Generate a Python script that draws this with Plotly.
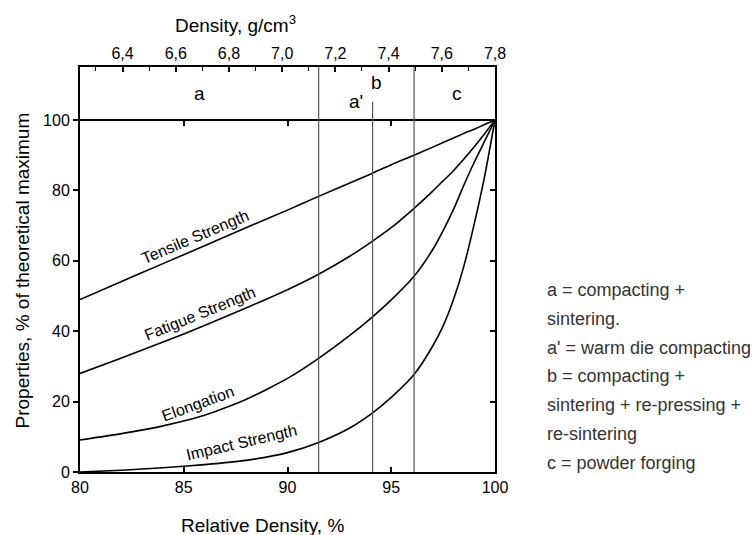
import plotly.graph_objects as go

# Relative density (% of theoretical) and property levels (% of theoretical maximum)
rel_density = [80, 82, 84, 86, 88, 90, 91.5, 93, 94.1, 95, 96.1, 97, 97.5, 98, 98.5, 99, 99.5, 100]
tensile = [49, 54.1, 59.2, 64.3, 69.4, 74.4, 78.3, 82.1, 84.9, 87.3, 90.0, 92.3, 93.6, 94.9, 96.2, 97.4, 98.7, 100]
fatigue = [28, 32.4, 36.9, 41.6, 46.6, 51.8, 56.2, 61.3, 65.6, 69.4, 74.9, 79.8, 82.7, 85.6, 88.9, 92.4, 96.1, 100]
elongation = [9.1, 10.9, 13.1, 16.1, 20.6, 26.6, 32.3, 38.8, 44.1, 48.9, 55.6, 63.2, 68.6, 74.6, 81.5, 88.0, 94.0, 100]
impact = [0, 0.5, 1.2, 2.1, 3.3, 5.5, 8.4, 12.5, 16.8, 21.2, 27.7, 35.8, 41.5, 49, 58.5, 70.5, 84, 100]

curve_labels = ["Tensile Strength", "Fatigue Strength", "Elongation", "Impact Strength"]
label_x = [85.59, 85.78, 85.69, 87.76]
label_y = [66.8, 44.9, 19.6, 8.5]
label_angle = [-23, -22, -20, -13]

# Process route boundaries (relative density) and region letters
boundary_full = [91.5, 96.1]
boundary_b = 94.1
boundary_b_top = 105.2
route_letters = ["a", "a'", "b", "c"]
letter_x = [85.75, 93.3, 94.3, 98.15]
letter_y = [107.6, 105.2, 110.6, 107.6]

x_ticks = [80, 85, 90, 95, 100]
y_ticks = [0, 20, 40, 60, 80, 100]
full_density = 7.8
density_ticks = [6.4, 6.6, 6.8, 7.0, 7.2, 7.4, 7.6, 7.8]
density_text = ["6,4", "6,6", "6,8", "7,0", "7,2", "7,4", "7,6", "7,8"]

legend_lines = [
    "a = compacting +",
    "sintering.",
    "a' = warm die compacting",
    "b = compacting +",
    "sintering + re-pressing +",
    "re-sintering",
    "c = powder forging",
]

W, H = 755, 535
L, R, T, B = 80, 260, 67, 63
PW, PH = W - L - R, H - T - B
Y_TOP = 115.06
FONT = "Liberation Sans, Arial, sans-serif"


def px_x(px):
    return (px - L) / PW


def px_y(py):
    return (H - B - py) / PH


fig = go.Figure()

for ys in [tensile, fatigue, elongation, impact]:
    fig.add_trace(go.Scatter(
        x=rel_density, y=ys, mode="lines",
        line=dict(color="black", width=1.6, shape="spline", smoothing=0.6),
        hoverinfo="skip", showlegend=False,
    ))

# invisible anchors so the overlay axes are drawn
fig.add_trace(go.Scatter(x=[density_ticks[0]], y=[0], xaxis="x2", yaxis="y",
                         mode="markers", marker=dict(opacity=0), hoverinfo="skip", showlegend=False))
fig.add_trace(go.Scatter(x=[x_ticks[0]], y=[0], xaxis="x3", yaxis="y",
                         mode="markers", marker=dict(opacity=0), hoverinfo="skip", showlegend=False))
fig.add_trace(go.Scatter(x=[x_ticks[0]], y=[0], xaxis="x", yaxis="y2",
                         mode="markers", marker=dict(opacity=0), hoverinfo="skip", showlegend=False))

# region boundaries
for xb in boundary_full:
    fig.add_shape(type="line", xref="x", yref="y", x0=xb, x1=xb, y0=0, y1=Y_TOP,
                  line=dict(color="#555555", width=1.2))
fig.add_shape(type="line", xref="x", yref="y", x0=boundary_b, x1=boundary_b, y0=0, y1=boundary_b_top,
              line=dict(color="#555555", width=1.2))

for txt, x, y, a in zip(curve_labels, label_x, label_y, label_angle):
    fig.add_annotation(x=x, y=y, xref="x", yref="y", text=txt, textangle=a, showarrow=False,
                       xanchor="center", yanchor="middle",
                       font=dict(family=FONT, size=16, color="black"))

for txt, x, y in zip(route_letters, letter_x, letter_y):
    fig.add_annotation(x=x, y=y, xref="x", yref="y", text=txt, showarrow=False,
                       xanchor="center", yanchor="middle",
                       font=dict(family=FONT, size=19, color="black"))

# axis titles
fig.add_annotation(x=px_x(262), y=px_y(525), xref="paper", yref="paper", text="Relative Density, %",
                   showarrow=False, xanchor="center", yanchor="middle",
                   font=dict(family=FONT, size=19, color="black"))
fig.add_annotation(x=px_x(235), y=px_y(24), xref="paper", yref="paper",
                   text="Density, g/cm<sup>3</sup>", showarrow=False, xanchor="center", yanchor="middle",
                   font=dict(family=FONT, size=19, color="black"))
fig.add_annotation(x=px_x(21.5), y=px_y(271), xref="paper", yref="paper",
                   text="Properties, % of theoretical maximum", textangle=-90, showarrow=False,
                   xanchor="center", yanchor="middle",
                   font=dict(family=FONT, size=19, color="black"))

for i, line in enumerate(legend_lines):
    fig.add_annotation(x=px_x(545), y=px_y(290 + 28.8 * i), xref="paper", yref="paper",
                       text=line, xanchor="left", yanchor="middle", showarrow=False,
                       font=dict(family=FONT, size=18, color="#333333"))

tick_font = dict(family=FONT, size=16, color="black")
fig.update_layout(
    width=W, height=H,
    margin=dict(l=L, r=R, t=T, b=B, pad=0),
    paper_bgcolor="white", plot_bgcolor="white",
    showlegend=False,
    xaxis=dict(range=[x_ticks[0], x_ticks[-1]], tickvals=x_ticks, ticks="inside", ticklen=5,
               tickwidth=1.5, tickcolor="black", showline=True, linewidth=2, linecolor="black",
               showgrid=False, zeroline=False, tickfont=tick_font),
    xaxis2=dict(range=[x_ticks[0] * full_density / 100, full_density], overlaying="x", side="top",
                anchor="y", tickvals=density_ticks, ticktext=density_text, ticks="inside",
                ticklen=5, tickwidth=1.5, tickcolor="black",
                minor=dict(ticks="inside", tick0=6.3, dtick=0.2, ticklen=4, tickwidth=1.2, tickcolor="black"),
                showline=True, linewidth=2, linecolor="black", showgrid=False, zeroline=False,
                tickfont=tick_font),
    xaxis3=dict(range=[x_ticks[0], x_ticks[-1]], overlaying="x", anchor="free",
                position=100 / Y_TOP, side="bottom", tickvals=x_ticks[1:-1], ticks="outside",
                ticklen=5, tickwidth=1.5, tickcolor="black", showticklabels=False,
                showline=True, linewidth=1.8, linecolor="black", showgrid=False, zeroline=False),
    yaxis=dict(range=[0, Y_TOP], tickvals=y_ticks, ticks="outside", ticklen=5, tickwidth=1.5,
               tickcolor="black", showline=True, linewidth=2, linecolor="black",
               showgrid=False, zeroline=False, tickfont=tick_font),
    yaxis2=dict(range=[0, Y_TOP], overlaying="y", side="right", anchor="x", tickvals=y_ticks[1:],
                ticks="inside", ticklen=5, tickwidth=1.5, tickcolor="black", showticklabels=False,
                showline=True, linewidth=2, linecolor="black", showgrid=False, zeroline=False),
)

fig.write_html("out.html")
